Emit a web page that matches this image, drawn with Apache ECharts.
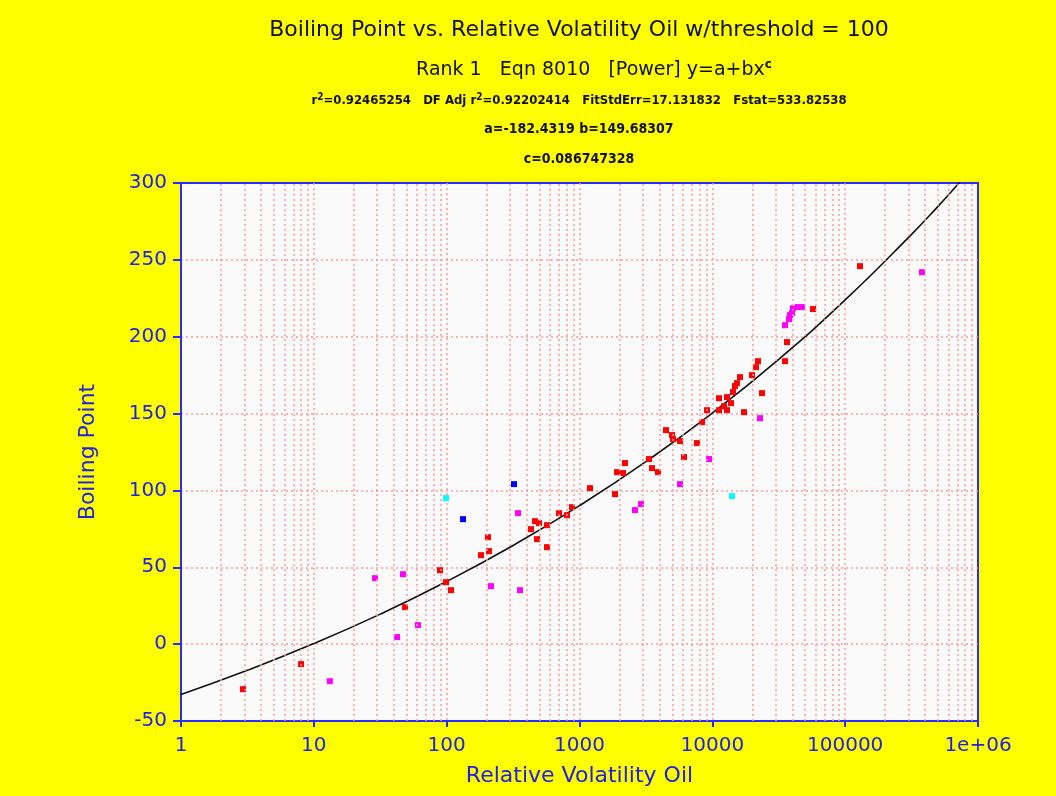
<!DOCTYPE html>
<html>
<head>
<meta charset="utf-8">
<script src="https://cdn.jsdelivr.net/npm/echarts@6/dist/echarts.min.js"></script>
<style>
html,body{margin:0;padding:0;background:#ffff00;}
#chart{width:1056px;height:796px;}
</style>
</head>
<body>
<div id="chart"></div>
<script>
// ---- data ----
const xTickLabels = ['1', '10', '100', '1000', '10000', '100000', '1e+06'];

const redX = [2.93, 8.01, 48.6, 89.1, 98.9, 107.8, 181.4, 204.8, 208.3, 431.5, 462.6, 495.8, 478.6, 569.2, 569.2, 701, 805, 878, 1200, 1851, 1916, 2126, 2201, 3337, 3515, 3899, 4479, 4971, 5058, 5710, 6119, 7668, 8361, 9120, 11226, 11226, 12242, 12898, 12898, 13822, 14310, 14813, 15336, 16157, 17318, 19893, 21323, 22077, 23660, 35260, 36500, 57280, 129300];
const redY = [-29.3, -13.0, 24.1, 48.1, 40.3, 35.1, 57.9, 69.6, 60.5, 74.8, 80.0, 78.7, 68.3, 77.4, 63.1, 85.2, 83.9, 89.1, 101.5, 97.6, 111.9, 111.3, 117.8, 120.4, 114.5, 111.9, 139.2, 136.0, 133.4, 132.1, 121.7, 130.8, 144.4, 152.2, 160.0, 152.2, 154.8, 160.7, 152.2, 156.8, 164.0, 167.9, 169.8, 173.7, 150.9, 175.0, 180.2, 184.1, 163.3, 184.1, 196.5, 218.0, 245.9];

const magentaX = [13.2, 28.9, 42.3, 46.9, 60.8, 215.7, 344.4, 356.6, 2618, 2905, 5710, 9441, 22850, 35260, 37780, 38440, 39810, 40500, 44160, 47330, 378800];
const magentaY = [-24.1, 42.9, 4.6, 45.5, 12.4, 37.7, 85.2, 35.1, 87.2, 91.1, 104.1, 120.4, 147.0, 207.5, 211.4, 214.0, 215.4, 218.6, 219.3, 219.3, 242.0];

const cyanX = [98.9, 14070];
const cyanY = [95.0, 96.3];

const blueX = [132.8, 321.4];
const blueY = [81.3, 104.1];

// fitted curve y = a + b*x^c, sampled values
const fitX = [1, 3.162, 10, 31.62, 100, 316.2, 1000, 3162, 10000, 31623, 100000, 316228, 500000, 720000, 1000000];
const fitY = [-32.75, -17.03, 0.35, 19.54, 40.76, 64.21, 90.11, 118.73, 150.35, 185.31, 223.93, 266.61, 284.8, 300.0, 313.77];

// ---- build ----
function pairs(xs, ys) { return xs.map((x, i) => [x, ys[i]]); }

const minorGrid = [];
for (let d = 1; d < 1000000; d *= 10) {
  for (let k = 2; k <= 9; k++) minorGrid.push({ xAxis: d * k });
}

const gridPink = '#ff9c9c';
const axisBlue = '#2b2bff';
const labelBlue = '#2222dd';
const condensed = "'DejaVu Sans Condensed', 'Liberation Sans', sans-serif";
const supStyle = { fontSize: 10, fontWeight: 'bold', padding: [0, 0, 7, 0], fontFamily: condensed, color: '#111' };
const titleCenter = 579;

const chart = echarts.init(document.getElementById('chart'), null, { renderer: 'canvas' });

const option = {
  backgroundColor: '#ffff00',
  animation: false,
  title: [
    { text: 'Boiling Point vs. Relative Volatility Oil w/threshold = 100', left: titleCenter, textAlign: 'center', top: 19, padding: 0,
      textStyle: { fontFamily: 'DejaVu Sans', fontSize: 22, fontWeight: 'normal', color: '#111' } },
    { text: 'Rank 1   Eqn 8010   [Power] y=a+bx{sup|c}', left: 594, textAlign: 'center', top: 59, padding: 0,
      textStyle: { fontFamily: 'DejaVu Sans', fontSize: 19, fontWeight: 'normal', color: '#111',
        rich: { sup: { fontSize: 12, fontWeight: 'bold', padding: [0, 0, 10, 0], fontFamily: 'DejaVu Sans', color: '#111' } } } },
    { text: 'r{sup|2}=0.92465254   DF Adj r{sup|2}=0.92202414   FitStdErr=17.131832   Fstat=533.82538', left: titleCenter, textAlign: 'center', top: 92, padding: 0,
      textStyle: { fontFamily: condensed, fontSize: 13, fontWeight: 'bold', color: '#111', rich: { sup: supStyle } } },
    { text: 'a=-182.4319 b=149.68307', left: titleCenter, textAlign: 'center', top: 122, padding: 0,
      textStyle: { fontFamily: condensed, fontSize: 14, fontWeight: 'bold', color: '#111' } },
    { text: 'c=0.086747328', left: titleCenter, textAlign: 'center', top: 152, padding: 0,
      textStyle: { fontFamily: condensed, fontSize: 14, fontWeight: 'bold', color: '#111' } }
  ],
  grid: {
    left: 181, right: 78, top: 183, bottom: 75,
    show: true, backgroundColor: '#fafafa', borderColor: axisBlue, borderWidth: 2,
    containLabel: false
  },
  xAxis: {
    type: 'log', logBase: 10, min: 1, max: 1000000,
    name: 'Relative Volatility Oil', nameLocation: 'middle', nameGap: 44,
    nameTextStyle: { fontFamily: 'DejaVu Sans', fontSize: 22, color: labelBlue },
    axisLine: { show: true, onZero: false, lineStyle: { color: axisBlue, width: 2 } },
    axisTick: { show: true, length: 6, lineStyle: { color: axisBlue, width: 2 } },
    axisLabel: {
      fontFamily: 'DejaVu Sans', fontSize: 20, color: labelBlue, margin: 15,
      formatter: function (v) { return xTickLabels[Math.round(Math.log10(v))]; }
    },
    splitLine: { show: true, showMinLine: false, showMaxLine: false, lineStyle: { color: gridPink, type: [2, 3], width: 1.5 } },
    minorTick: { show: false }, minorSplitLine: { show: false }
  },
  yAxis: {
    type: 'value', min: -50, max: 300, interval: 50,
    name: 'Boiling Point', nameLocation: 'middle', nameGap: 82, nameRotate: 90,
    nameTextStyle: { fontFamily: 'DejaVu Sans', fontSize: 22, color: labelBlue },
    axisLine: { show: true, onZero: false, lineStyle: { color: axisBlue, width: 2 } },
    axisTick: { show: true, length: 8, lineStyle: { color: axisBlue, width: 2 } },
    axisLabel: { fontFamily: 'DejaVu Sans', fontSize: 20, color: labelBlue, margin: 14 },
    splitLine: { show: true, showMinLine: false, showMaxLine: false, lineStyle: { color: gridPink, type: [2, 3], width: 1.5 } }
  },
  series: [
    { type: 'line', data: [], silent: true, z: 1,
      markLine: { silent: true, symbol: 'none', label: { show: false },
        lineStyle: { color: gridPink, type: [2, 3], width: 1.5 }, data: minorGrid, animation: false } },
    { name: 'fit', type: 'line', data: pairs(fitX, fitY), showSymbol: false, smooth: true, clip: true, z: 3,
      lineStyle: { color: '#111', width: 1.6 } },
    { name: 'red', type: 'scatter', data: pairs(redX, redY), symbol: 'rect', symbolSize: 6, z: 4,
      itemStyle: { color: '#ff0000', opacity: 1 } },
    { name: 'magenta', type: 'scatter', data: pairs(magentaX, magentaY), symbol: 'rect', symbolSize: 6, z: 4,
      itemStyle: { color: '#ff00ff', opacity: 1 } },
    { name: 'cyan', type: 'scatter', data: pairs(cyanX, cyanY), symbol: 'rect', symbolSize: 6, z: 4,
      itemStyle: { color: '#00ffff', opacity: 1 } },
    { name: 'blue', type: 'scatter', data: pairs(blueX, blueY), symbol: 'rect', symbolSize: 6, z: 4,
      itemStyle: { color: '#0000ff', opacity: 1 } }
  ]
};
chart.setOption(option);
</script>
</body>
</html>
